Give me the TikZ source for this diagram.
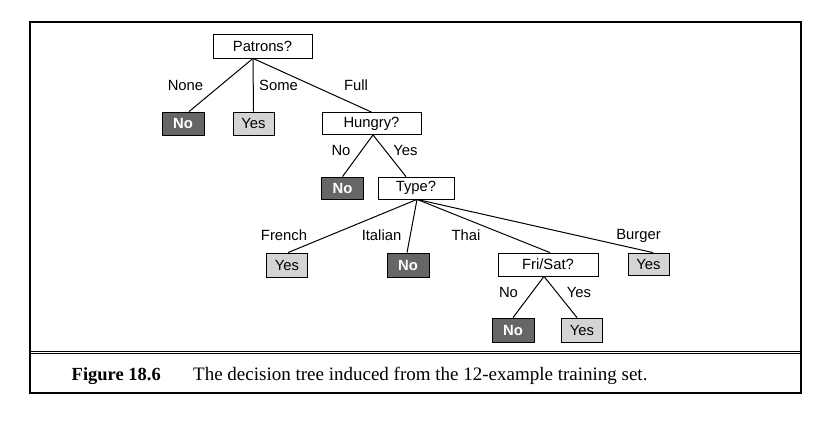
\documentclass[tikz,border=0pt]{standalone}
\usepackage{fontspec}
\setmainfont{Liberation Sans}
\newfontfamily\capfont{Liberation Serif}
\begin{document}
\begin{tikzpicture}[x=1pt,y=-1pt,
  txt/.style={font=\fontsize{14.8}{16}\selectfont},
  attr/.style={draw=black,line width=0.8pt,fill=white,inner sep=0pt,minimum height=23pt,txt},
  leafno/.style={draw=black,line width=0.8pt,fill=black!60,text=white,inner sep=0pt,minimum width=42pt,minimum height=23pt,font=\fontsize{14.8}{16}\selectfont\bfseries},
  leafyes/.style={draw=black,line width=0.8pt,fill=black!17,inner sep=0pt,minimum width=41pt,minimum height=23pt,txt},
  lbl/.style={inner sep=0pt,txt},
  edge/.style={line width=1pt,black}]
\useasboundingbox (0,0) rectangle (824,424);
% frame
\draw[line width=1.2pt] (30,22) rectangle (801,393);
\draw[line width=0.9pt] (30,351) -- (801,351);
\draw[line width=0.9pt] (30,353.5) -- (801,353.5);
% nodes
\node[attr,minimum width=99pt,minimum height=24pt] (pat) at (262.5,46) {Patrons?};
\node[leafno] (no1) at (183,123.5) {No};
\node[leafyes] (ys1) at (253.5,123.5) {Yes};
\node[attr,minimum width=99pt,minimum height=22pt] (hun) at (371.5,123.5) {Hungry?};
\node[leafno,minimum height=22pt] (no2) at (342.5,188) {No};
\node[attr,minimum width=76pt,minimum height=22pt] (typ) at (416,188) {Type?};
\node[leafyes,minimum height=24pt] (ys2) at (287,265) {Yes};
\node[leafno,minimum height=24pt] (no3) at (408,265) {No};
\node[attr,minimum width=100pt] (fri) at (548,264.5) {Fri/Sat?};
\node[leafyes,minimum height=22pt] (ys3) at (648.5,264) {Yes};
\node[leafno,minimum height=24pt] (no4) at (513,330) {No};
\node[leafyes,minimum height=24pt] (ys4) at (582,330) {Yes};
% edges
\draw[edge] ([xshift=-9.5pt]pat.south) -- ([xshift=6pt]no1.north);
\draw[edge] ([xshift=-9.5pt]pat.south) -- (ys1.north);
\draw[edge] ([xshift=-9.5pt]pat.south) -- (hun.north);
\draw[edge] ([xshift=1.5pt]hun.south) -- (no2.north);
\draw[edge] ([xshift=1.5pt]hun.south) -- ([xshift=-10pt]typ.north);
\draw[edge] ([xshift=1pt]typ.south) -- ([xshift=1pt]ys2.north);
\draw[edge] ([xshift=1pt]typ.south) -- ([xshift=-1pt]no3.north);
\draw[edge] ([xshift=1pt]typ.south) -- ([xshift=2pt]fri.north);
\draw[edge] ([xshift=1pt]typ.south) -- ([xshift=4.5pt]ys3.north);
\draw[edge] ([xshift=-4pt]fri.south) -- (no4.north);
\draw[edge] ([xshift=-4pt]fri.south) -- ([xshift=-5pt]ys4.north);
% labels
\node[lbl] (l1) at (185.5,85) {None};
\node[lbl] (l2) at (278.5,85) {Some};
\node[lbl] (l3) at (356,85) {Full};
\node[lbl] (l4) at (341,150) {No};
\node[lbl] (l5) at (405.5,150) {Yes};
\node[lbl] (l6) at (284,235.5) {French};
\node[lbl] (l7) at (381.5,235.5) {Italian};
\node[lbl] (l8) at (466,235.5) {Thai};
\node[lbl] (l9) at (638.5,235.5) {Burger};
\node[lbl] (l10) at (508.5,292.5) {No};
\node[lbl] (l11) at (579,292.5) {Yes};
% caption
\node[anchor=base west,inner sep=0pt,font=\capfont\fontsize{18.5}{21}\selectfont\bfseries] (fig) at (71.5,380) {Figure 18.6};
\node[anchor=base west,inner sep=0pt,font=\capfont\fontsize{19}{21}\selectfont] (cap) at (193,380) {The decision tree induced from the 12-example training set.};
\end{tikzpicture}
\end{document}
